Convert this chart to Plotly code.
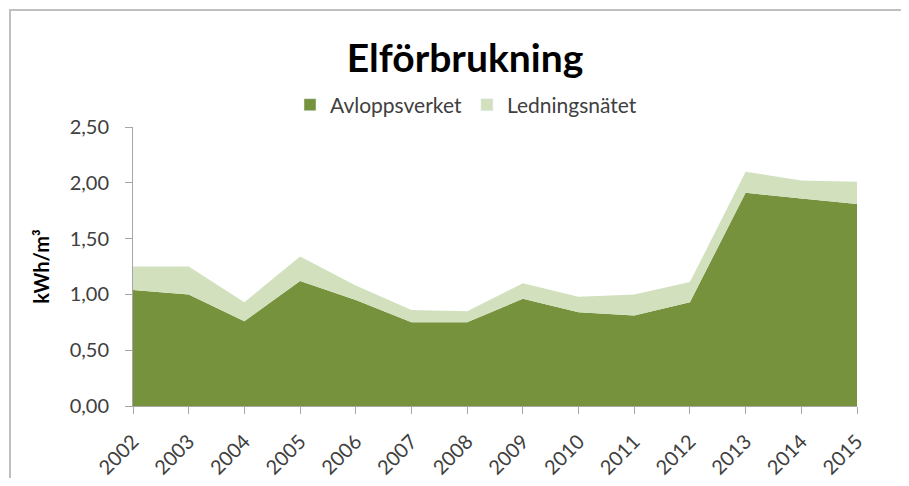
import plotly.graph_objects as go

years = [str(y) for y in range(2002, 2016)]
avloppsverket = [1.04, 1.00, 0.76, 1.12, 0.95, 0.75, 0.75, 0.96, 0.84, 0.81, 0.93, 1.91, 1.86, 1.81]
ledningsnatet = [0.21, 0.25, 0.17, 0.22, 0.13, 0.11, 0.10, 0.14, 0.14, 0.19, 0.18, 0.19, 0.16, 0.20]
y_ticks = [0, 0.5, 1.0, 1.5, 2.0, 2.5]
y_tick_labels = ["0,00", "0,50", "1,00", "1,50", "2,00", "2,50"]

dark = "#76923C"
light = "#D2E0BE"
font = "Lato"
text_col = "#404040"

fig = go.Figure()
fig.add_trace(go.Scatter(
    x=years, y=avloppsverket, name="Avloppsverket", mode="lines",
    stackgroup="one", line=dict(width=0, color=dark), fillcolor=dark, showlegend=False,
))
fig.add_trace(go.Scatter(
    x=years, y=ledningsnatet, name="Ledningsnätet", mode="lines",
    stackgroup="one", line=dict(width=0, color=light), fillcolor=light, showlegend=False,
))
# legend-only entries (square swatches)
fig.add_trace(go.Bar(x=[years[0]], y=[None], name="Avloppsverket", marker_color=dark))
fig.add_trace(go.Bar(x=[years[0]], y=[None], name="Ledningsnätet", marker_color=light))

# page body has an 8px margin; compensate so the chart lands where the reference has it
OFF = 8
W, H = 909 - 2 * OFF, 486 - 2 * OFF
L, T = 133 - OFF, 127 - OFF
pw, ph = 724, 279
R, B = W - L - pw, H - T - ph

def px(x):
    return (x - OFF - L) / pw

def py(y):
    return 1 - (y - OFF - T) / ph

fig.update_layout(
    width=W, height=H,
    margin=dict(l=L, r=R, t=T, b=B, pad=0, autoexpand=False),
    paper_bgcolor="white", plot_bgcolor="white",
    font=dict(family=font, size=20, color=text_col),
    title=dict(text="<b>Elförbrukning</b>", x=(465 - OFF) / W, xanchor="center",
               y=1 - (58 - OFF) / H, yanchor="middle",
               font=dict(family=font, size=39, color="black")),
    legend=dict(orientation="h", x=px(466), xanchor="center", y=py(105), yanchor="middle",
                font=dict(family=font, size=21, color=text_col),
                traceorder="normal", itemwidth=30, bgcolor="rgba(0,0,0,0)"),
    showlegend=True,
    barmode="overlay",
    xaxis=dict(
        type="category", range=[0, len(years) - 1], showgrid=False, automargin=False,
        showline=True, linecolor="#A6A6A6", linewidth=1,
        ticks="outside", ticklen=7, tickcolor="#A6A6A6",
        ticklabelstandoff=8,
        tickangle=-45, tickfont=dict(family=font, size=20, color=text_col),
    ),
    yaxis=dict(
        range=[0, 2.5], tickvals=y_ticks, ticktext=y_tick_labels,
        showgrid=False, zeroline=False, automargin=False,
        showline=True, linecolor="#A6A6A6", linewidth=1,
        ticks="outside", ticklen=7, tickcolor="#A6A6A6",
        ticklabelstandoff=12,
        tickfont=dict(family=font, size=20, color=text_col),
        title=dict(text="<b>kWh/m³</b>", font=dict(family=font, size=20, color="black"),
                   standoff=14),
    ),
    shapes=[dict(type="rect", xref="paper", yref="paper",
                 x0=px(10), x1=px(960), y0=py(540), y1=py(10),
                 line=dict(color="#BFBFBF", width=2), fillcolor="rgba(0,0,0,0)", layer="below")],
)

fig.write_html("out.html")
